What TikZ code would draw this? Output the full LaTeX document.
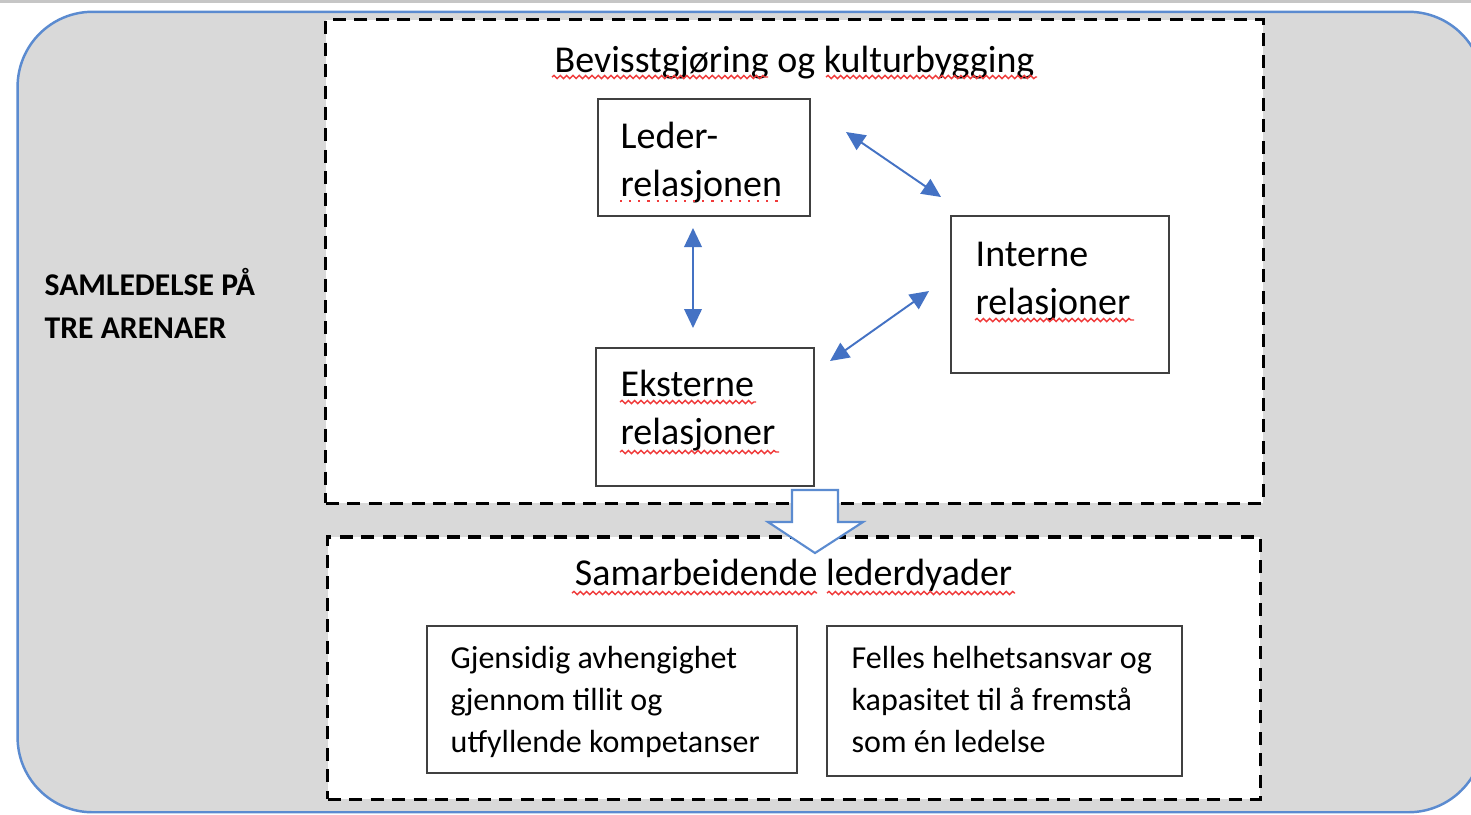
\documentclass[tikz,border=0pt]{standalone}
\usepackage{fontspec}
\setmainfont{Carlito}
\usetikzlibrary{arrows.meta,decorations.pathmorphing}
\definecolor{arenagray}{HTML}{D9D9D9}
\definecolor{arenablue}{HTML}{5B8BD0}
\definecolor{relblue}{HTML}{4472C4}
\definecolor{boxgray}{HTML}{404040}
\definecolor{spellred}{HTML}{F03A3A}
\newcommand{\boxlines}[1]{\parbox[t]{5cm}{#1}}

\begin{document}
\begin{tikzpicture}[x=0.01cm, y=-0.01cm, >={Triangle[length=5.4pt,width=5pt]}]
    \tikzstyle{ArenaStyle}=[rectangle,
                            rounded corners = 0.75cm,
                            fill            = arenagray,
                            draw            = arenablue,
                            line width      = 0.7pt]
    \tikzstyle{FrameStyle}=[rectangle,
                            fill            = white,
                            draw            = black,
                            line width      = 0.9pt,
                            dash pattern    = on 3.7pt off 2.4pt]
    \tikzstyle{BoxStyle}=[rectangle,
                          draw       = boxgray,
                          line width = 0.5pt]
    \tikzstyle{BigText}=[inner sep = 0pt,
                         font      = \fontsize{10.8}{13.9}\selectfont]
    \tikzstyle{SmallText}=[inner sep = 0pt,
                           font      = \fontsize{9.1}{11.95}\selectfont]
    \tikzstyle{RelArrow}=[<->,
                          draw       = relblue,
                          fill       = relblue,
                          line width = 0.55pt]
    \tikzstyle{SpellLine}=[draw       = spellred,
                           line width = 0.4pt,
                           decorate,
                           decoration = {snake, amplitude=0.45pt, segment length=1.8pt}]
    % page and background
    \fill[white] (0,0) rectangle (1471,814);
    \useasboundingbox (0,0) rectangle (1471,814);
    \fill[gray!45] (0,0) rectangle (1471,3);
    \node[ArenaStyle, minimum width=14.65cm, minimum height=8cm] (arena) at (750.5,412) {};
    \node[anchor=base west, inner sep=0pt,
          font=\fontsize{9}{12.5}\selectfont\bfseries] (arenaname) at (44,295)
         {\boxlines{SAMLEDELSE PÅ\\TRE ARENAER}};
    % upper frame
    \node[FrameStyle, minimum width=9.37cm, minimum height=4.83cm] (upper) at (794.5,261.5) {};
    \node[BigText, anchor=base] (uppertitle) at (794.5,72) {Bevisstgjøring og kulturbygging};
    \node[BoxStyle, minimum width=2.12cm, minimum height=1.17cm] (leder) at (704,157.5) {};
    \node[BoxStyle, minimum width=2.18cm, minimum height=1.57cm] (interne) at (1060,294.5) {};
    \node[BoxStyle, minimum width=2.18cm, minimum height=1.38cm] (eksterne) at (705,417) {};
    \node[BigText, anchor=base west] (ledertxt) at (620,148) {\boxlines{Leder-\\relasjonen}};
    \node[BigText, anchor=base west] (internetxt) at (975,266) {\boxlines{Interne\\relasjoner}};
    \node[BigText, anchor=base west] (eksternetxt) at (620,396) {\boxlines{Eksterne\\relasjoner}};
    \coordinate (lederR)    at (846,132);
    \coordinate (interneT)  at (941,197);
    \coordinate (lederB)    at (693,228);
    \coordinate (eksterneT) at (693,328);
    \coordinate (interneL)  at (929,291);
    \coordinate (eksterneR) at (830,361);
    \draw[RelArrow] (lederR) -- (interneT);
    \draw[RelArrow] (lederB) -- (eksterneT);
    \draw[RelArrow] (interneL) -- (eksterneR);
    % lower frame
    \node[FrameStyle, minimum width=9.32cm, minimum height=2.62cm] (lower) at (794,668) {};
    \node[BigText, anchor=base] (lowertitle) at (793.5,585) {Samarbeidende lederdyader};
    \node[BoxStyle, minimum width=3.70cm, minimum height=1.47cm] (gjensidig) at (612,699.5) {};
    \node[BoxStyle, minimum width=3.55cm, minimum height=1.50cm] (felles) at (1004.5,701) {};
    \node[SmallText, anchor=base west] (gjensidigtxt) at (450,668)
         {\boxlines{Gjensidig avhengighet\\gjennom tillit og\\utfyllende kompetanser}};
    \node[SmallText, anchor=base west] (fellestxt) at (851,668)
         {\boxlines{Felles helhetsansvar og\\kapasitet til å fremstå\\som én ledelse}};
    % block arrow between the frames
    \draw[fill=white, draw=arenablue, line width=0.6pt, line join=miter]
        (792,490) -- (838,490) -- (838,522) -- (863,522) -- (815,553)
        -- (768,522) -- (792,522) -- cycle;
    % spelling marks
    \draw[SpellLine] (552,77) -- (768,77);
    \draw[SpellLine] (826,77) -- (1037,77);
    \draw[spellred, line width=0.6pt, dotted] (620,201) -- (783,201);
    \draw[SpellLine] (975,320) -- (1134,320);
    \draw[SpellLine] (620,402) -- (756,402);
    \draw[SpellLine] (620,452) -- (779,452);
    \draw[SpellLine] (572,593) -- (817,593);
    \draw[SpellLine] (827,593) -- (1015,593);
\end{tikzpicture}
\end{document}
